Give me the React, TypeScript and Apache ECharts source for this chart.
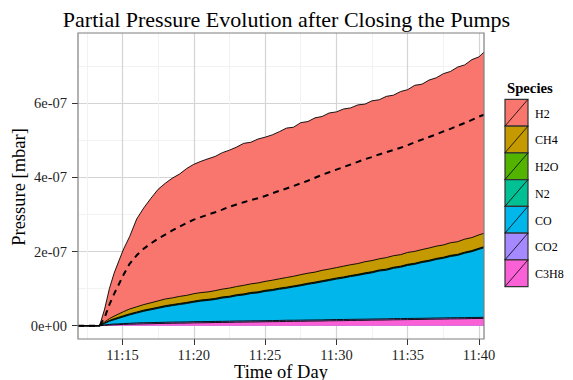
import React, { useEffect, useRef } from "react";
import * as echarts from "echarts";

// Time stamps of the samples (time of day)
const TIMES = [
  "11:11:53", "11:13:24", "11:13:45", "11:14:05", "11:14:25", "11:14:45", "11:15:05", "11:15:30",
  "11:16:00", "11:16:30", "11:17:00", "11:17:30", "11:18:00", "11:18:30", "11:19:00", "11:19:30",
  "11:20:00", "11:20:30", "11:21:00", "11:21:30", "11:22:00", "11:22:30", "11:23:00", "11:23:30",
  "11:24:00", "11:24:30", "11:25:00", "11:25:30", "11:26:00", "11:26:30", "11:27:00", "11:27:30",
  "11:28:00", "11:28:30", "11:29:00", "11:29:30", "11:30:00", "11:30:30", "11:31:00", "11:31:30",
  "11:32:00", "11:32:30", "11:33:00", "11:33:30", "11:34:00", "11:34:30", "11:35:00", "11:35:30",
  "11:36:00", "11:36:30", "11:37:00", "11:37:30", "11:38:00", "11:38:30", "11:39:00", "11:39:30",
  "11:40:00", "11:40:21",
];

// All pressures below are in units of 1e-7 mbar
const UNIT = 1e-7;

const C3H8 = [
  0, 0, 0.010, 0.020, 0.025, 0.030, 0.035, 0.040, 0.046, 0.050, 0.054, 0.060, 0.063, 0.067, 0.070, 0.072,
  0.077, 0.080, 0.082, 0.087, 0.089, 0.091, 0.096, 0.098, 0.101, 0.103, 0.107, 0.109, 0.111, 0.116, 0.118, 0.120,
  0.124, 0.126, 0.128, 0.133, 0.135, 0.137, 0.142, 0.144, 0.146, 0.151, 0.153, 0.155, 0.160, 0.162, 0.165, 0.168,
  0.170, 0.175, 0.177, 0.179, 0.184, 0.186, 0.188, 0.193, 0.195, 0.198,
];
const CO2 = [
  0, 0, 0.010, 0.015, 0.020, 0.020, 0.025, 0.025,
  0.030, 0.031, 0.030, 0.029, 0.030, 0.031, 0.030, 0.030, 0.032, 0.031,
  0.030, 0.029, 0.030, 0.031, 0.032, 0.030, 0.031, 0.030, 0.029, 0.030,
  0.031, 0.032, 0.030, 0.031, 0.030, 0.030, 0.029, 0.031, 0.032, 0.031,
  0.030, 0.030, 0.031, 0.029, 0.030, 0.031, 0.032, 0.030, 0.031, 0.030,
  0.030, 0.029, 0.031, 0.032, 0.031, 0.030, 0.031, 0.030, 0.029, 0.030,
];
const CO = [
  0, 0, 0.040, 0.085, 0.115, 0.150, 0.180, 0.225, 0.265, 0.310, 0.345, 0.380, 0.417, 0.444, 0.470, 0.497,
  0.524, 0.552, 0.571, 0.590, 0.626, 0.644, 0.679, 0.700, 0.735, 0.752, 0.789, 0.808, 0.842, 0.861, 0.897, 0.926,
  0.962, 0.990, 1.026, 1.054, 1.090, 1.118, 1.154, 1.182, 1.218, 1.246, 1.292, 1.310, 1.356, 1.384, 1.430, 1.458,
  1.504, 1.532, 1.578, 1.606, 1.652, 1.680, 1.736, 1.774, 1.838, 1.873,
];
const N2 = [
  0, 0, 0.005, 0.010,
  0.015, 0.015, 0.016, 0.015, 0.014, 0.015, 0.016, 0.015, 0.015, 0.014,
  0.015, 0.016, 0.015, 0.015, 0.014, 0.015, 0.016, 0.015, 0.015, 0.016,
  0.015, 0.014, 0.015, 0.016, 0.015, 0.015, 0.014, 0.015, 0.016, 0.015,
  0.015, 0.016, 0.015, 0.014, 0.015, 0.015, 0.016, 0.015, 0.014, 0.015,
  0.016, 0.015, 0.015, 0.014, 0.015, 0.016, 0.015, 0.015, 0.016, 0.015,
  0.014, 0.015, 0.015, 0.016,
];
const H2O = [
  0, 0, 0.005, 0.010,
  0.014, 0.015, 0.015, 0.016, 0.015, 0.015, 0.014, 0.015, 0.016, 0.015,
  0.015, 0.014, 0.015, 0.016, 0.015, 0.015, 0.016, 0.014, 0.015, 0.015,
  0.016, 0.015, 0.015, 0.014, 0.015, 0.016, 0.015, 0.015, 0.014, 0.015,
  0.016, 0.015, 0.015, 0.016, 0.014, 0.015, 0.015, 0.016, 0.015, 0.015,
  0.014, 0.015, 0.016, 0.015, 0.015, 0.014, 0.015, 0.016, 0.015, 0.015,
  0.016, 0.015, 0.014, 0.015,
];
const CH4 = [
  0, 0, 0.03, 0.05, 0.07, 0.09, 0.11, 0.13, 0.14, 0.15, 0.16, 0.17, 0.18, 0.18, 0.19, 0.19,
  0.20, 0.20, 0.20, 0.21, 0.21, 0.22, 0.22, 0.23, 0.23, 0.24, 0.24, 0.25, 0.25, 0.26, 0.26, 0.27,
  0.27, 0.27, 0.28, 0.28, 0.28, 0.29, 0.29, 0.29, 0.30, 0.30, 0.30, 0.31, 0.31, 0.31, 0.32, 0.32,
  0.32, 0.33, 0.33, 0.33, 0.34, 0.34, 0.35, 0.35, 0.36, 0.36,
];
const H2 = [
  0, 0, 0.35, 0.81, 1.16, 1.43, 1.69, 1.95, 2.37, 2.61, 2.82, 3.01, 3.12, 3.23, 3.30, 3.42,
  3.49, 3.54, 3.59, 3.62, 3.68, 3.72, 3.76, 3.83, 3.82, 3.88, 3.89, 3.92, 3.97, 4.03, 4.02, 4.10,
  4.09, 4.16, 4.15, 4.21, 4.20, 4.24, 4.23, 4.28, 4.25, 4.31, 4.29, 4.35, 4.33, 4.40, 4.39, 4.48,
  4.46, 4.53, 4.54, 4.62, 4.62, 4.71, 4.70, 4.80, 4.80, 4.89,
];
// Dashed curve (absolute, not stacked)
const DASHED = [
  0, 0, 0.22, 0.57, 0.86, 1.12, 1.38, 1.67, 1.90, 2.08, 2.22, 2.35, 2.46, 2.57, 2.67, 2.77,
  2.86, 2.93, 3.00, 3.06, 3.13, 3.21, 3.27, 3.33, 3.39, 3.44, 3.50, 3.57, 3.64, 3.70, 3.77, 3.84,
  3.91, 3.99, 4.07, 4.14, 4.21, 4.28, 4.35, 4.42, 4.49, 4.55, 4.62, 4.68, 4.74, 4.80, 4.87, 4.95,
  5.02, 5.09, 5.16, 5.24, 5.31, 5.39, 5.47, 5.55, 5.64, 5.69,
];

// Legend order (top to bottom = top of stack to bottom) and ggplot hue colours
const SPECIES = ["H2", "CH4", "H2O", "N2", "CO", "CO2", "C3H8"];
const SPECIES_COLORS = ["#F8766D", "#C49A00", "#53B400", "#00C094", "#00B6EB", "#A58AFF", "#FB61D7"];
const SPECIES_DATA = [H2, CH4, H2O, N2, CO, CO2, C3H8];

const X_TICKS = ["11:15", "11:20", "11:25", "11:30", "11:35", "11:40"];
const X_MINOR_TICKS = ["11:12:30", "11:17:30", "11:22:30", "11:27:30", "11:32:30", "11:37:30"];
const Y_TICKS = [0, 2, 4, 6];
const Y_TICK_LABELS = ["0e+00", "2e-07", "4e-07", "6e-07"];
const Y_MINOR_TICKS = [1, 3, 5, 7];
const Y_RANGE = [-0.358, 7.895];

const TITLE = "Partial Pressure Evolution after Closing the Pumps";
const X_TITLE = "Time of Day";
const Y_TITLE = "Pressure [mbar]";
const LEGEND_TITLE = "Species";

const FONT = "Liberation Serif, Times New Roman, serif";

function toSec(s: string): number {
  const p = s.split(":").map(Number);
  return p[0] * 3600 + p[1] * 60 + (p[2] || 0);
}

const GRID = { left: 78, top: 33, width: 406, height: 306 };

export default function App() {
  const ref = useRef<HTMLDivElement>(null);

  useEffect(() => {
    if (!ref.current) return;
    const chart = echarts.init(ref.current, undefined, { renderer: "svg" });

    const xs = TIMES.map(toSec);
    const xMin = xs[0];
    const xMax = xs[xs.length - 1];
    const xTickVals = X_TICKS.map(toSec);
    const xMinorVals = X_MINOR_TICKS.map(toSec);
    const yTickVals = Y_TICKS.map((v) => v * UNIT);
    const yMinorVals = Y_MINOR_TICKS.map((v) => v * UNIT);

    // Stack: bottom is the last species (C3H8), top is H2.
    // Each layer is drawn as its cumulative top filled down to zero; lower layers
    // are painted over higher ones, which reproduces a stacked area chart.
    const n = SPECIES.length;
    const cumulative: number[][] = [];
    const running = xs.map(() => 0);
    for (let k = n - 1; k >= 0; k--) {
      for (let i = 0; i < xs.length; i++) running[i] += SPECIES_DATA[k][i];
      cumulative[k] = running.slice();
    }

    const areaSeries: any[] = SPECIES.map((name, k) => ({
      name,
      type: "line",
      xAxisIndex: 0,
      yAxisIndex: 0,
      symbol: "none",
      showSymbol: false,
      smooth: false,
      z: 3 + k,
      lineStyle: { color: "#000", width: 0.9 },
      areaStyle: { color: SPECIES_COLORS[k], opacity: 1, origin: 0 },
      itemStyle: { color: SPECIES_COLORS[k] },
      data: xs.map((x, i) => [x, cumulative[k][i] * UNIT]),
    }));

    const dashedSeries = {
      name: "dashed",
      type: "line",
      xAxisIndex: 0,
      yAxisIndex: 0,
      symbol: "none",
      showSymbol: false,
      z: 20,
      lineStyle: { color: "#000", width: 2, type: [6, 5] },
      data: xs.map((x, i) => [x, DASHED[i] * UNIT]),
    };

    const keyX = 505;
    const keyW = 23;
    const keyH = 26.75;
    const keyY0 = 99.3;
    const legendEls: any[] = [
      {
        type: "text",
        x: 507,
        y: 88,
        z: 100,
        style: {
          text: LEGEND_TITLE,
          fontFamily: FONT,
          fontSize: 14.7,
          fontWeight: "bold",
          fill: "#000",
          align: "left",
          verticalAlign: "middle",
        },
      },
    ];
    SPECIES.forEach((name, i) => {
      const y = keyY0 + i * keyH;
      legendEls.push({
        type: "rect",
        z: 100,
        shape: { x: keyX, y, width: keyW, height: keyH },
        style: { fill: SPECIES_COLORS[i], stroke: "#333", lineWidth: 1.2 },
      });
      legendEls.push({
        type: "line",
        z: 101,
        shape: { x1: keyX, y1: y + keyH, x2: keyX + keyW, y2: y },
        style: { stroke: "#000", lineWidth: 0.8 },
      });
      legendEls.push({
        type: "text",
        z: 101,
        x: 535,
        y: y + keyH / 2 + 1,
        style: {
          text: name,
          fontFamily: FONT,
          fontSize: 12,
          fill: "#000",
          align: "left",
          verticalAlign: "middle",
        },
      });
    });

    const option: any = {
      animation: false,
      backgroundColor: "#fff",
      grid: {
        ...GRID,
        show: true,
        backgroundColor: "#fff",
        borderWidth: 0,
        containLabel: false,
        outerBoundsMode: "none",
      },
      xAxis: [
        {
          type: "value",
          min: xMin,
          max: xMax,
          position: "bottom",
          axisLine: { show: false, onZero: false },
          axisTick: {
            show: true,
            length: 6,
            customValues: xTickVals,
            lineStyle: { color: "#333", width: 1 },
          },
          axisLabel: {
            show: true,
            customValues: xTickVals,
            margin: 8,
            color: "#1f1f1f",
            fontFamily: FONT,
            fontSize: 14.5,
            formatter: (v: number) => {
              const idx = xTickVals.findIndex((t) => Math.abs(t - v) < 0.5);
              return idx >= 0 ? X_TICKS[idx] : "";
            },
          },
          splitLine: { show: true, lineStyle: { color: "#D4D4D4", width: 1.2 } },
        },
        {
          type: "value",
          min: xMin,
          max: xMax,
          position: "top",
          axisLine: { show: false, onZero: false },
          axisTick: { show: false, customValues: xMinorVals },
          axisLabel: { show: false, customValues: xMinorVals },
          splitLine: { show: true, lineStyle: { color: "#F2F2F2", width: 1 } },
        },
      ],
      yAxis: [
        {
          type: "value",
          min: Y_RANGE[0] * UNIT,
          max: Y_RANGE[1] * UNIT,
          position: "left",
          axisLine: { show: false, onZero: false },
          axisTick: {
            show: true,
            length: 6,
            customValues: yTickVals,
            lineStyle: { color: "#333", width: 1 },
          },
          axisLabel: {
            show: true,
            customValues: yTickVals,
            margin: 11,
            color: "#1f1f1f",
            fontFamily: FONT,
            fontSize: 14.5,
            formatter: (v: number) => {
              const idx = yTickVals.findIndex((t) => Math.abs(t - v) < 1e-12);
              return idx >= 0 ? Y_TICK_LABELS[idx] : "";
            },
          },
          splitLine: { show: true, lineStyle: { color: "#D4D4D4", width: 1.2 } },
        },
        {
          type: "value",
          min: Y_RANGE[0] * UNIT,
          max: Y_RANGE[1] * UNIT,
          position: "right",
          axisLine: { show: false, onZero: false },
          axisTick: { show: false, customValues: yMinorVals },
          axisLabel: { show: false, customValues: yMinorVals },
          splitLine: { show: true, lineStyle: { color: "#F2F2F2", width: 1 } },
        },
      ],
      series: [...areaSeries, dashedSeries],
      graphic: [
        {
          type: "rect",
          z: 90,
          shape: { x: GRID.left, y: GRID.top, width: GRID.width, height: GRID.height },
          style: { fill: "transparent", stroke: "#7F7F7F", lineWidth: 1.2 },
          silent: true,
        },
        {
          type: "text",
          x: 286.5,
          y: 19,
          z: 100,
          style: {
            text: TITLE,
            fontFamily: FONT,
            fontSize: 22,
            fill: "#000",
            align: "center",
            verticalAlign: "middle",
          },
        },
        {
          type: "text",
          x: 281,
          y: 371.5,
          z: 100,
          style: {
            text: X_TITLE,
            fontFamily: FONT,
            fontSize: 18.5,
            fill: "#000",
            align: "center",
            verticalAlign: "middle",
          },
        },
        {
          type: "text",
          x: 19,
          y: 187,
          rotation: Math.PI / 2,
          z: 100,
          style: {
            text: Y_TITLE,
            fontFamily: FONT,
            fontSize: 18.5,
            fill: "#000",
            align: "center",
            verticalAlign: "middle",
          },
        },
        ...legendEls,
      ],
    };

    chart.setOption(option);
    return () => {
      chart.dispose();
    };
  }, []);

  return (
    <div
      ref={ref}
      style={{ position: "absolute", left: 0, top: 0, width: 573, height: 380 }}
    />
  );
}
